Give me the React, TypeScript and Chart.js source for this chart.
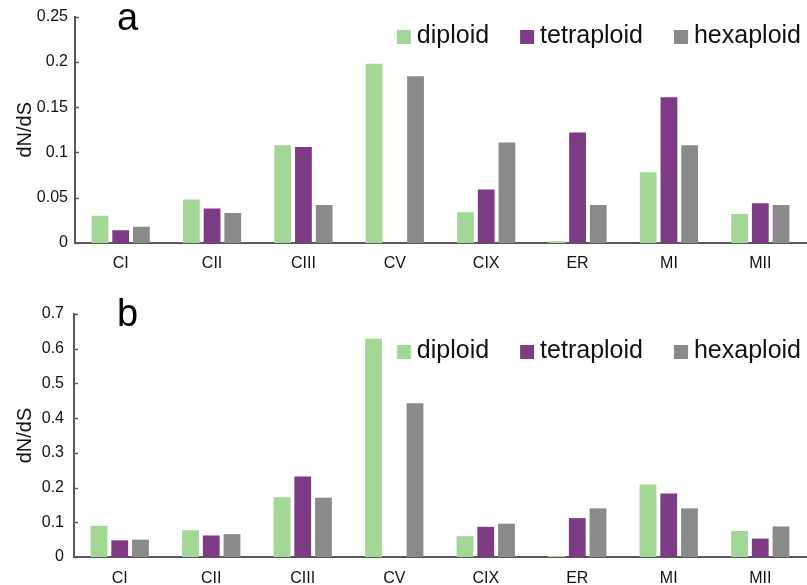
import React, { useEffect, useRef } from 'react';
import { Chart, registerables } from 'chart.js';

Chart.register(...registerables);

const categories = ['CI', 'CII', 'CIII', 'CV', 'CIX', 'ER', 'MI', 'MII'];
const seriesNames = ['diploid', 'tetraploid', 'hexaploid'];
const seriesColors = ['#a3d796', '#7d3a85', '#8a8a8a'];

// Panel a
const diploidA = [0.030, 0.048, 0.108, 0.198, 0.034, 0.002, 0.078, 0.032];
const tetraploidA = [0.014, 0.038, 0.106, null, 0.059, 0.122, 0.161, 0.044];
const hexaploidA = [0.018, 0.033, 0.042, 0.184, 0.111, 0.042, 0.108, 0.042];
const yTicksA = [0, 0.05, 0.1, 0.15, 0.2, 0.25];

// Panel b
const diploidB = [0.090, 0.077, 0.172, 0.629, 0.060, 0.003, 0.209, 0.075];
const tetraploidB = [0.048, 0.062, 0.232, null, 0.087, 0.112, 0.183, 0.053];
const hexaploidB = [0.050, 0.066, 0.171, 0.443, 0.096, 0.140, 0.140, 0.088];
const yTicksB = [0, 0.1, 0.2, 0.3, 0.4, 0.5, 0.6, 0.7];

const FONT = '"Liberation Sans", Arial, Helvetica, sans-serif';
const AXIS_COLOR = '#595959';

type PanelProps = {
  series: (number | null)[][];
  yTicks: number[];
  panelLabel: string;
  height: number;
  padTop: number;
  axisX: number;
  xAxisHeight: number;
  xLabelPad: number;
  yLabelPad: number;
  legendBaseline: number;
  legendBoxTop: number;
  labelBaseline: number;
};

function Panel(p: PanelProps) {
  const ref = useRef<HTMLCanvasElement | null>(null);
  useEffect(() => {
    if (!ref.current) return;
    const decor = {
      id: 'decor',
      afterDraw(chart: any) {
        const ctx = chart.ctx;
        const ys = chart.scales.y;
        const area = chart.chartArea;
        ctx.save();
        // inward tick marks on y axis
        ctx.strokeStyle = AXIS_COLOR;
        ctx.lineWidth = 1.5;
        p.yTicks.forEach((v) => {
          const py = Math.round(ys.getPixelForValue(v)) + 0.5;
          ctx.beginPath();
          ctx.moveTo(area.left, py);
          ctx.lineTo(area.left + 4, py);
          ctx.stroke();
        });
        // legend
        ctx.font = `25px ${FONT}`;
        ctx.textBaseline = 'alphabetic';
        ctx.textAlign = 'left';
        let x = 801;
        for (let i = seriesNames.length - 1; i >= 0; i--) {
          const w = ctx.measureText(seriesNames[i]).width;
          const tx = x - w;
          ctx.fillStyle = '#111';
          ctx.fillText(seriesNames[i], tx, p.legendBaseline);
          const bx = tx - 6 - 14;
          ctx.fillStyle = seriesColors[i];
          ctx.fillRect(bx, p.legendBoxTop, 14, 14);
          x = bx - 31;
        }
        // panel label
        ctx.fillStyle = '#000';
        ctx.font = `38px ${FONT}`;
        ctx.fillText(p.panelLabel, 117, p.labelBaseline);
        ctx.restore();
      },
    };
    const chart = new Chart(ref.current, {
      type: 'bar',
      data: {
        labels: categories,
        datasets: seriesNames.map((name, i) => ({
          label: name,
          data: p.series[i],
          backgroundColor: seriesColors[i],
          borderWidth: 0,
          categoryPercentage: 0.68,
          barPercentage: 0.81,
        })),
      },
      options: {
        responsive: false,
        maintainAspectRatio: false,
        animation: false,
        layout: { padding: { top: p.padTop, left: 0, right: 1, bottom: 0 } },
        plugins: { legend: { display: false }, tooltip: { enabled: false } },
        scales: {
          x: {
            grid: { display: false, drawTicks: false },
            border: { display: true, color: AXIS_COLOR, width: 2 },
            ticks: { color: '#111', font: { family: FONT, size: 16 }, padding: p.xLabelPad, maxRotation: 0 },
            afterFit: (s: any) => { s.height = p.xAxisHeight; },
          },
          y: {
            min: 0,
            max: p.yTicks[p.yTicks.length - 1],
            grid: { display: false, drawTicks: false },
            border: { display: true, color: AXIS_COLOR, width: 2 },
            afterBuildTicks: (s: any) => { s.ticks = p.yTicks.map((v) => ({ value: v })); },
            ticks: {
              color: '#111',
              font: { family: FONT, size: 16 },
              padding: p.yLabelPad,
              callback: (v: any) => String(v),
            },
            title: {
              display: true,
              text: 'dN/dS',
              color: '#111',
              font: { family: FONT, size: 20 },
              padding: { top: 13, bottom: 0 },
            },
            afterFit: (s: any) => { s.width = p.axisX; },
          },
        },
      },
      plugins: [decor],
    });
    return () => chart.destroy();
  }, []);
  return <canvas ref={ref} width={807} height={p.height} style={{ display: 'block', width: 807, height: p.height }} />;
}

export default function App() {
  return (
    <div style={{ position: 'fixed', left: 0, top: 0, width: 807, height: 585, background: '#fff' }}>
      <Panel
        series={[diploidA, tetraploidA, hexaploidA]}
        yTicks={yTicksA}
        panelLabel="a"
        height={290}
        padTop={16}
        axisX={75}
        xAxisHeight={47}
        xLabelPad={11}
        yLabelPad={7}
        legendBaseline={43}
        legendBoxTop={30}
        labelBaseline={30}
      />
      <Panel
        series={[diploidB, tetraploidB, hexaploidB]}
        yTicks={yTicksB}
        panelLabel="b"
        height={295}
        padTop={24}
        axisX={74}
        xAxisHeight={28}
        xLabelPad={12}
        yLabelPad={10}
        legendBaseline={68}
        legendBoxTop={55}
        labelBaseline={36}
      />
    </div>
  );
}
